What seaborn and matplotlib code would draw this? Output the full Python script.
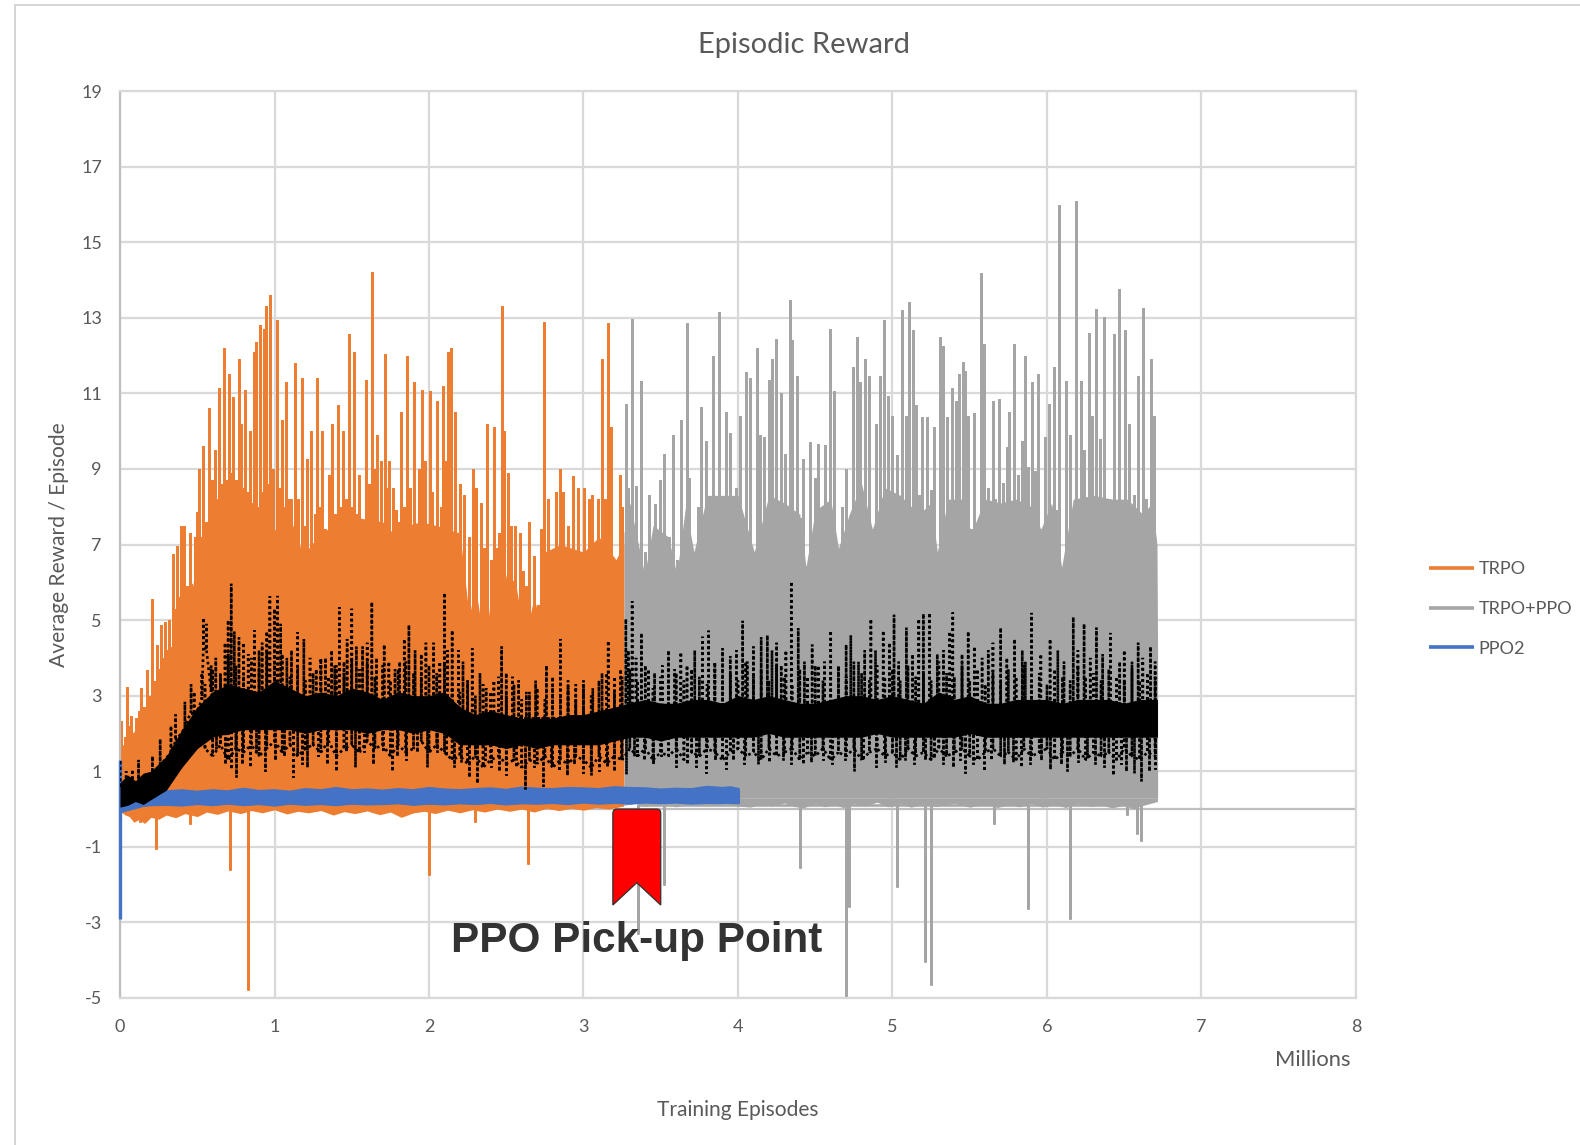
import matplotlib
matplotlib.use("Agg")
import matplotlib.pyplot as plt
from matplotlib.lines import Line2D
from matplotlib.path import Path
from matplotlib.patches import PathPatch
import seaborn as sns

W, H = 1580, 1145
ORANGE, GRAY, BLUE = "#ED7D31", "#A5A5A5", "#4472C4"
TEXT = "#595959"
GRID = "#D9D9D9"

TRPO_X = [0.0,0.009,0.03,0.045,0.06,0.072,0.09,0.105,0.122,0.138,0.155,0.172,0.19,0.21,0.224,0.239,0.252,0.265,0.278,0.29,0.304,0.317,0.33,0.346,0.36,0.372,0.385,0.395,0.407,0.417,0.434,0.45,0.462,0.473,0.487,0.5,0.51,0.525,0.54,0.557,0.573,0.585,0.595,0.607,0.618,0.63,0.64,0.657,0.673,0.69,0.707,0.72,0.729,0.75,0.767,0.777,0.785,0.798,0.811,0.825,0.84,0.853,0.867,0.88,0.893,0.907,0.923,0.935,0.947,0.958,0.97,0.99,1.014,1.03,1.046,1.06,1.074,1.092,1.11,1.13,1.152,1.175,1.195,1.213,1.235,1.26,1.278,1.293,1.31,1.324,1.353,1.369,1.39,1.409,1.425,1.442,1.462,1.482,1.497,1.514,1.53,1.547,1.57,1.592,1.613,1.634,1.648,1.661,1.687,1.714,1.728,1.743,1.765,1.788,1.805,1.821,1.84,1.857,1.877,1.904,1.933,1.955,1.977,2.004,2.022,2.055,2.075,2.093,2.11,2.126,2.144,2.167,2.2,2.229,2.256,2.282,2.305,2.334,2.356,2.378,2.4,2.418,2.44,2.455,2.47,2.485,2.512,2.53,2.554,2.59,2.61,2.628,2.65,2.679,2.706,2.725,2.742,2.773,2.802,2.824,2.851,2.869,2.902,2.935,2.964,3.002,3.036,3.058,3.091,3.105,3.12,3.14,3.16,3.18,3.207,3.236,3.25]
TRPO_Y = [1.5,2.32,1.9,3.24,2.2,2.46,2.0,2.41,2.6,3.19,2.7,3.69,3.0,5.55,3.4,4.35,3.7,4.87,4.0,4.94,4.2,5.0,4.3,6.76,5.3,6.95,5.6,7.5,6.0,7.5,5.9,7.3,5.95,5.9,7.2,7.85,9.0,7.2,9.6,7.6,10.6,8.2,8.7,7.9,9.5,8.2,11.15,8.6,12.2,8.7,11.5,8.9,10.9,8.7,11.9,8.9,10.2,8.5,11.1,8.4,10.0,8.1,12.1,12.35,8.0,12.8,8.4,12.7,13.3,8.6,13.6,9.0,12.95,8.5,10.3,8.0,11.3,8.2,8.2,11.8,8.2,11.4,7.5,9.25,10.0,7.8,11.4,8.0,10.0,7.4,8.85,10.2,7.8,10.7,8.0,10.0,8.2,12.57,8.0,12.1,7.8,8.85,7.6,11.35,8.6,14.2,9.0,9.9,9.2,12.03,8.5,9.2,8.5,7.9,7.6,10.5,8.0,12.0,8.5,11.3,9.0,11.1,9.2,11.05,8.4,10.8,8.0,11.2,9.2,12.1,12.2,10.5,8.6,8.3,7.2,9.0,8.5,8.1,6.9,10.2,6.6,10.1,6.9,7.3,13.3,10.0,8.9,7.5,7.5,7.3,6.3,5.9,7.6,6.7,5.4,7.4,12.9,8.2,6.7,8.4,9.0,8.4,7.5,8.8,8.5,8.5,8.2,8.3,8.2,7.0,11.9,8.2,12.85,10.1,6.6,8.85,8.0]
TRPO_BODY_X = [0.0,0.1,0.2,0.3,0.35,0.4,0.46,0.5,0.6,0.7,0.9,1.07,1.13,1.18,1.3,1.43,1.55,1.7,1.79,1.85,1.95,2.05,2.2,2.26,2.3,2.36,2.4,2.46,2.5,2.56,2.62,2.68,2.71,2.75,2.85,3.0,3.1,3.21,3.262]
TRPO_BODY_Y = [1.6,2.1,2.6,3.7,4.4,5.3,5.5,6.9,7.4,7.9,8.0,7.0,7.6,6.7,7.3,7.6,7.7,7.6,7.2,7.5,7.6,7.5,7.3,5.1,5.9,4.3,5.6,5.3,6.2,6.0,4.5,5.6,5.1,6.8,7.0,6.8,7.2,6.6,7.0]
TRPO_BOT_X = [0.0,0.03,0.06,0.09,0.12,0.16,0.2,0.25,0.3,0.36,0.42,0.5,0.56,0.63,0.7,0.78,0.85,0.92,1.0,1.08,1.15,1.22,1.3,1.38,1.45,1.52,1.6,1.68,1.75,1.82,1.9,1.97,2.04,2.12,2.2,2.28,2.36,2.44,2.52,2.6,2.68,2.76,2.84,2.92,3.0,3.08,3.16,3.26]
TRPO_BOT_Y = [-0.05,-0.15,-0.2,-0.35,-0.28,-0.38,-0.22,-0.27,-0.16,-0.23,-0.12,-0.2,-0.08,-0.14,-0.05,-0.12,-0.04,-0.1,-0.02,-0.13,-0.06,-0.1,-0.04,-0.16,-0.07,-0.12,-0.05,-0.15,-0.08,-0.22,-0.1,-0.06,-0.12,-0.03,-0.1,-0.02,-0.08,0.0,-0.06,0.0,-0.08,0.02,-0.04,0.02,-0.03,0.04,0.0,0.08]
TRPO_DIP_X = [0.13,0.234,0.45,0.71,0.83,2.0,2.3,2.64]
TRPO_DIP_Y = [-0.35,-1.06,-0.4,-1.6,-4.8,-1.75,-0.35,-1.45]

MIX_X = [3.274,3.29,3.315,3.34,3.37,3.396,3.426,3.465,3.496,3.523,3.554,3.58,3.604,3.63,3.67,3.685,3.715,3.74,3.76,3.79,3.835,3.875,3.9,3.92,3.95,3.985,4.01,4.05,4.08,4.105,4.125,4.14,4.17,4.2,4.22,4.247,4.28,4.305,4.335,4.35,4.38,4.4,4.42,4.44,4.467,4.496,4.52,4.54,4.563,4.594,4.624,4.65,4.675,4.7,4.725,4.745,4.767,4.79,4.82,4.845,4.87,4.894,4.92,4.947,4.97,5.0,5.03,5.06,5.09,5.11,5.13,5.15,5.17,5.19,5.225,5.25,5.27,5.29,5.31,5.33,5.35,5.385,5.41,5.43,5.455,5.47,5.49,5.51,5.53,5.57,5.59,5.62,5.65,5.665,5.69,5.715,5.74,5.755,5.785,5.81,5.835,5.86,5.875,5.9,5.92,5.94,5.96,5.99,6.015,6.045,6.06,6.075,6.095,6.12,6.15,6.185,6.22,6.24,6.27,6.29,6.315,6.34,6.37,6.4,6.435,6.45,6.465,6.49,6.505,6.53,6.56,6.59,6.62,6.64,6.67,6.695]
MIX_Y = [10.73,8.5,12.98,8.55,11.33,6.8,8.3,8.06,8.7,9.4,7.2,9.9,6.6,10.3,12.86,8.75,6.8,8.0,10.65,9.74,12.0,13.14,8.2,10.5,9.95,8.5,10.4,11.57,11.4,6.76,12.2,9.9,9.85,11.36,11.9,12.43,11.0,9.4,13.47,12.4,11.46,7.7,9.27,6.44,9.7,8.75,9.66,7.9,9.63,12.7,11.05,6.86,8.0,9.0,7.5,11.7,12.5,11.3,11.9,11.46,7.4,10.2,11.46,12.95,10.94,10.4,9.37,13.2,10.4,13.42,12.67,10.68,8.3,10.37,10.37,8.43,10.1,6.76,12.5,12.25,10.37,11.15,10.8,11.5,11.83,11.6,10.4,7.4,10.47,14.18,12.3,8.5,10.8,8.2,10.85,8.64,9.58,10.5,12.3,8.85,9.74,12.0,9.06,11.3,8.95,11.5,7.4,9.84,10.73,11.7,7.9,15.98,6.3,11.33,9.9,16.09,11.33,9.5,12.6,10.4,13.24,9.8,13.03,8.2,12.56,8.1,13.76,8.1,12.67,10.2,8.3,11.46,13.26,8.2,11.9,10.4]
MIX_BODY_X = [3.262,3.3,3.396,3.45,3.55,3.604,3.66,3.715,3.8,3.9,4.0,4.105,4.2,4.3,4.4,4.44,4.5,4.6,4.65,4.72,4.8,4.87,4.95,5.05,5.17,5.25,5.29,5.36,5.45,5.51,5.6,5.7,5.8,5.9,5.96,6.03,6.095,6.17,6.3,6.42,6.52,6.62,6.68,6.712,6.716]
MIX_BODY_Y = [7.3,8.1,6.2,7.5,7.2,6.2,8.0,6.8,8.3,8.3,8.3,6.8,8.3,8.1,7.8,6.4,7.9,8.2,6.9,7.8,8.6,7.4,8.5,8.3,7.8,8.1,6.8,8.2,8.2,7.3,8.2,8.1,8.2,8.0,7.4,8.1,6.4,8.2,8.3,8.2,8.2,7.8,8.1,7.0,4.0]
MIX_BOT_X = [3.26,3.33,3.4,3.5,3.6,3.7,3.8,3.9,4.0,4.08,4.15,4.22,4.3,4.36,4.42,4.5,4.56,4.62,4.68,4.75,4.82,4.9,4.97,5.05,5.12,5.2,5.28,5.4,5.5,5.6,5.68,5.75,5.82,5.9,5.97,6.05,6.12,6.2,6.28,6.35,6.42,6.5,6.56,6.6,6.66,6.715]
MIX_BOT_Y = [0.1,0.15,0.08,0.14,0.06,0.15,0.09,0.16,0.08,0.05,0.13,0.08,0.16,0.07,0.03,0.14,0.06,0.12,0.04,0.14,0.08,0.18,0.06,0.14,0.05,0.13,0.07,0.15,0.05,0.13,0.04,0.12,0.06,0.15,0.05,0.12,0.04,0.14,0.07,0.11,0.03,0.1,0.0,0.07,0.14,0.2]
MIX_DIP_X = [3.35,3.52,4.4,4.7,4.72,5.03,5.21,5.25,5.66,5.88,6.15,6.52,6.58,6.61]
MIX_DIP_Y = [-3.3,-2.0,-1.55,-5.0,-2.6,-2.05,-4.05,-4.65,-0.4,-2.65,-2.9,-0.15,-0.65,-0.85]

PPO2_X = [0.0,0.03,0.08,0.15,0.2,0.3,0.4,0.5,0.6,0.7,0.8,0.9,1.0,1.1,1.2,1.3,1.4,1.5,1.6,1.7,1.8,1.9,2.0,2.1,2.2,2.3,2.4,2.5,2.6,2.7,2.8,2.9,3.0,3.1,3.2,3.3,3.4,3.5,3.6,3.7,3.8,3.9,3.95,4.01]
PPO2_TOP = [0.3,0.2,0.25,0.42,0.46,0.47,0.5,0.46,0.5,0.47,0.54,0.48,0.5,0.46,0.53,0.5,0.56,0.5,0.52,0.49,0.53,0.5,0.56,0.52,0.5,0.53,0.55,0.51,0.57,0.54,0.53,0.56,0.55,0.53,0.58,0.56,0.55,0.52,0.54,0.53,0.59,0.56,0.58,0.53]
PPO2_BOT = [-0.1,-0.05,0.0,0.08,0.1,0.11,0.09,0.13,0.1,0.14,0.1,0.13,0.09,0.14,0.11,0.13,0.1,0.14,0.12,0.13,0.15,0.11,0.14,0.12,0.15,0.13,0.16,0.12,0.15,0.14,0.16,0.13,0.17,0.14,0.16,0.14,0.17,0.15,0.17,0.14,0.16,0.15,0.16,0.15]
PPO2_SPIKE_Y = [1.3,-2.9]

BAND_X = [0.0,0.05,0.1,0.15,0.2,0.3,0.4,0.5,0.6,0.7,0.8,0.9,1.0,1.1,1.2,1.3,1.4,1.5,1.6,1.7,1.8,1.9,2.0,2.1,2.2,2.3,2.4,2.5,2.6,2.7,2.8,2.9,3.0,3.1,3.2,3.3,3.4,3.5,3.6,3.7,3.8,3.9,4.0,4.1,4.2,4.3,4.4,4.5,4.6,4.7,4.8,4.9,5.0,5.1,5.2,5.3,5.4,5.5,5.6,5.7,5.8,5.9,6.0,6.1,6.2,6.3,6.4,6.5,6.6,6.715]
BAND_TOP = [0.7,0.9,0.75,0.95,1.0,1.4,2.1,2.7,3.1,3.3,3.2,3.1,3.4,3.2,3.0,3.1,3.0,3.2,3.1,2.9,3.1,3.0,3.0,3.1,2.7,2.5,2.6,2.5,2.4,2.4,2.4,2.5,2.5,2.6,2.7,2.8,2.9,2.8,2.8,2.9,2.9,2.8,3.0,2.9,3.0,2.9,2.8,2.8,2.9,3.0,3.0,2.9,3.0,2.9,2.8,3.1,2.9,3.0,2.8,2.8,2.9,2.9,2.9,2.8,2.9,2.9,2.9,2.8,2.9,2.9]
BAND_BOT = [0.05,0.1,0.2,0.12,0.25,0.5,1.1,1.6,1.9,2.0,2.1,2.1,2.1,2.1,2.0,2.1,2.1,2.1,2.0,2.1,2.1,2.0,2.1,2.0,1.7,1.7,1.7,1.6,1.7,1.6,1.7,1.7,1.7,1.7,1.8,1.9,1.9,1.8,1.9,1.9,1.9,1.9,1.9,1.9,2.0,1.9,1.9,1.9,1.9,1.9,1.9,2.0,1.9,1.9,1.9,1.9,1.9,2.0,1.9,1.9,1.9,1.9,1.9,1.9,1.9,1.9,1.9,1.9,1.9,1.9]

FUZZ_X = [0.55,0.6,0.65,0.7,0.75,0.8,0.85,0.9,0.95,1.0,1.05,1.1,1.15,1.2,1.25,1.3,1.35,1.4,1.45,1.5,1.55,1.6,1.65,1.7,1.75,1.8,1.85,1.9,1.95,2.0,2.05,2.1,2.15,2.2,2.25,2.3,2.35,2.4,2.45,2.5,2.55,2.6,2.65,2.7,2.75,2.8,2.85,2.9,2.95,3.0,3.05,3.1,3.15,3.2,3.25,3.3,3.35,3.4,3.45,3.5,3.55,3.6,3.65,3.7,3.75,3.8,3.85,3.9,3.95,4.0,4.05,4.1,4.15,4.2,4.25,4.3,4.35,4.4,4.45,4.5,4.55,4.6,4.65,4.7,4.75,4.8,4.85,4.9,4.95,5.0,5.05,5.1,5.15,5.2,5.25,5.3,5.35,5.4,5.45,5.5,5.55,5.6,5.65,5.7,5.75,5.8,5.85,5.9,5.95,6.0,6.05,6.1,6.15,6.2,6.25,6.3,6.35,6.4,6.45,6.5,6.55,6.6,6.65,6.7]
FUZZ_TOP = [3.3,3.7,3.5,4.1,3.8,3.6,4.0,3.7,4.2,3.9,4.1,3.5,3.8,3.4,3.6,3.9,3.5,3.8,3.6,4.0,3.7,3.9,3.5,3.8,3.4,3.7,3.9,3.6,3.5,3.8,3.6,3.9,3.3,3.1,3.4,3.0,3.3,3.1,3.5,3.0,3.3,2.9,3.1,3.2,2.9,3.3,3.0,3.2,2.9,3.3,3.0,3.4,3.6,3.1,3.5,3.7,3.4,3.8,3.2,3.5,3.3,3.6,3.4,3.7,3.5,3.3,3.8,3.5,3.6,3.4,3.9,3.5,3.7,3.4,3.8,3.5,3.3,3.7,3.5,3.8,3.4,3.6,3.7,3.5,3.9,3.6,3.4,3.8,3.5,3.7,3.4,3.8,3.5,3.6,3.4,3.9,3.6,3.5,3.8,3.4,3.7,3.3,3.6,3.4,3.7,3.5,3.8,3.4,3.6,3.3,3.7,3.5,3.4,3.8,3.5,3.6,3.4,3.7,3.5,3.4,3.7,3.4,3.6,3.5]
FUZZ_BOT = [1.6,1.4,1.7,1.3,1.6,1.5,1.7,1.4,1.6,1.8,1.5,1.7,1.4,1.6,1.7,1.5,1.8,1.4,1.6,1.7,1.5,1.8,1.6,1.7,1.4,1.7,1.5,1.6,1.8,1.5,1.7,1.5,1.3,1.4,1.2,1.4,1.1,1.3,1.4,1.2,1.3,1.1,1.3,1.2,1.4,1.1,1.3,1.2,1.4,1.3,1.1,1.4,1.2,1.4,1.3,1.6,1.4,1.6,1.3,1.5,1.4,1.6,1.3,1.5,1.4,1.6,1.5,1.3,1.5,1.6,1.4,1.5,1.3,1.6,1.4,1.5,1.6,1.3,1.5,1.4,1.6,1.3,1.5,1.4,1.6,1.3,1.5,1.6,1.4,1.5,1.3,1.6,1.4,1.5,1.3,1.6,1.4,1.5,1.6,1.4,1.3,1.5,1.6,1.4,1.5,1.3,1.6,1.4,1.5,1.6,1.3,1.5,1.4,1.6,1.3,1.5,1.4,1.5,1.3,1.6,1.4,1.3,1.5,1.4]

HI_X = [0.0,0.04,0.08,0.12,0.21,0.26,0.33,0.36,0.42,0.46,0.48,0.53,0.54,0.56,0.59,0.62,0.65,0.68,0.7,0.72,0.74,0.77,0.8,0.83,0.87,0.9,0.92,0.95,0.97,1.0,1.02,1.04,1.08,1.11,1.15,1.19,1.23,1.27,1.3,1.33,1.37,1.39,1.42,1.45,1.47,1.5,1.53,1.57,1.6,1.63,1.66,1.71,1.74,1.78,1.81,1.84,1.87,1.91,1.95,1.98,2.03,2.07,2.1,2.12,2.15,2.19,2.22,2.25,2.28,2.33,2.37,2.42,2.47,2.5,2.54,2.58,2.63,2.69,2.76,2.8,2.85,2.9,2.95,3.0,3.06,3.12,3.16,3.2,3.24,3.274,3.29,3.315,3.34,3.375,3.42,3.46,3.51,3.55,3.59,3.63,3.67,3.72,3.77,3.81,3.85,3.9,3.95,3.99,4.03,4.06,4.1,4.15,4.19,4.22,4.25,4.28,4.31,4.345,4.39,4.43,4.48,4.52,4.56,4.6,4.65,4.7,4.73,4.78,4.82,4.86,4.89,4.94,4.98,5.01,5.04,5.09,5.13,5.17,5.2,5.24,5.29,5.33,5.37,5.39,5.45,5.49,5.53,5.58,5.62,5.65,5.7,5.74,5.79,5.84,5.86,5.9,5.96,6.02,6.07,6.11,6.17,6.2,6.24,6.28,6.32,6.36,6.41,6.47,6.5,6.55,6.59,6.62,6.67,6.7]
HI_Y = [1.3,1.0,1.05,1.3,1.4,1.85,2.2,2.5,2.84,3.3,3.1,3.6,5.06,4.9,3.8,4.0,3.6,4.4,5.0,5.96,4.7,4.54,4.4,4.1,4.73,4.2,4.4,4.7,5.63,5.3,5.64,4.9,4.0,4.2,4.68,4.5,4.0,3.7,4.0,4.0,4.2,3.8,5.34,3.9,4.5,5.3,4.3,4.3,4.4,5.48,4.0,4.35,3.9,3.7,3.9,4.5,4.87,4.2,4.1,4.4,4.4,3.9,5.72,4.2,4.73,4.2,3.9,3.4,4.25,3.6,3.2,3.4,4.3,3.6,3.5,3.4,3.1,3.4,3.8,3.5,4.5,3.4,3.3,3.4,3.2,3.6,4.45,3.5,3.7,5.03,4.2,5.5,4.0,4.66,3.7,3.6,3.8,4.2,3.7,4.15,3.8,4.2,4.56,4.72,3.9,4.25,4.05,4.2,4.98,3.9,4.3,4.55,4.6,4.2,4.4,3.8,4.2,6.02,4.79,3.9,4.35,3.8,3.9,4.72,3.8,4.35,4.6,3.9,4.2,5.03,4.2,4.72,4.4,5.14,3.9,4.8,4.1,5.03,5.17,5.19,4.1,4.2,4.7,5.2,4.1,4.7,4.3,4.0,4.2,4.4,4.8,4.0,4.5,4.2,3.9,5.19,4.1,4.5,4.2,3.9,5.08,4.2,4.9,4.0,4.8,4.1,4.66,3.9,4.2,3.9,4.4,4.0,4.3,3.9]
LO_X = [0.62,0.68,0.72,0.75,0.79,0.84,0.88,0.94,1.0,1.06,1.12,1.18,1.21,1.28,1.34,1.4,1.46,1.52,1.58,1.64,1.7,1.76,1.79,1.85,1.92,1.99,2.05,2.11,2.16,2.21,2.26,2.31,2.36,2.4,2.45,2.5,2.56,2.62,2.68,2.74,2.79,2.84,2.89,2.94,3.0,3.05,3.1,3.15,3.2,3.24,3.276,3.33,3.39,3.45,3.5,3.6,3.67,3.73,3.79,3.85,3.92,3.97,4.04,4.13,4.2,4.29,4.34,4.42,4.47,4.55,4.61,4.69,4.75,4.81,4.89,4.95,5.02,5.08,5.14,5.21,5.27,5.33,5.39,5.44,5.47,5.52,5.59,5.64,5.72,5.78,5.83,5.89,5.96,6.02,6.09,6.13,6.2,6.26,6.31,6.37,6.43,6.48,6.51,6.56,6.61,6.66,6.7]
LO_Y = [1.6,1.2,1.05,0.85,1.2,1.1,1.5,1.0,1.3,1.4,0.85,1.2,1.1,1.4,1.2,1.0,1.5,1.1,1.5,1.2,1.5,1.0,1.4,1.3,1.5,1.1,1.5,1.4,1.1,1.25,0.85,0.7,1.3,1.1,1.0,0.9,1.1,0.52,1.1,0.62,1.2,1.0,0.9,1.2,0.95,0.9,1.0,1.1,1.0,1.3,0.92,1.4,1.3,1.2,1.4,1.1,1.2,1.1,0.95,1.3,1.06,1.3,1.2,1.2,1.25,1.3,1.2,1.2,1.25,1.3,1.2,1.3,1.0,1.3,1.1,1.25,1.1,1.3,1.2,1.3,1.35,1.2,1.1,1.3,0.95,1.2,1.0,1.3,1.2,1.25,1.1,1.2,1.3,1.05,1.2,1.0,1.25,1.35,1.2,1.1,0.9,1.2,1.0,0.95,0.74,1.0,1.05]

X_TICKS = [0,1,2,3,4,5,6,7,8]
Y_TICKS = [-5,-3,-1,1,3,5,7,9,11,13,15,17,19]


def spikes(xs, ys, bases):
    px, py = [], []
    for a, b, c in zip(xs, ys, bases):
        px += [a, a, a]
        py += [c, b, c]
    return px, py


sns.set_theme(style="whitegrid")
plt.rcParams["font.family"] = ["Lato", "DejaVu Sans"]
plt.rcParams["axes.unicode_minus"] = False

fig = plt.figure(figsize=(W / 100, H / 100), dpi=100, facecolor="white")
ax = fig.add_axes([120 / W, 1 - 998 / H, 1236 / W, 907 / H])
ax.set_facecolor("white")
ax.grid(True, color=GRID, lw=1.6)
ax.set_axisbelow(True)
ax.axhline(0, color="#BFBFBF", lw=1.6, zorder=1)

line_kw = dict(ax=ax, estimator=None, sort=False, errorbar=None, solid_joinstyle="bevel", solid_capstyle="butt")
dot_kw = dict(ax=ax, estimator=None, sort=False, errorbar=None, color="black", lw=1.9,
              linestyle=(0, (1, 1.15)), zorder=4, legend=False, dash_joinstyle="bevel")
LW = 2.1
# TRPO
ax.fill_between(TRPO_BODY_X, 0.3, TRPO_BODY_Y, color=ORANGE, lw=0, zorder=2)
ax.fill_between(TRPO_BOT_X, TRPO_BOT_Y, 0.3, color=ORANGE, lw=0, zorder=2)
sx, sy = spikes(TRPO_X, TRPO_Y, [0.5] * len(TRPO_X))
sns.lineplot(x=sx, y=sy, color=ORANGE, lw=LW, label="TRPO", zorder=2.1, **line_kw)
dx, dy = spikes(TRPO_DIP_X, TRPO_DIP_Y, [0.1] * len(TRPO_DIP_X))
sns.lineplot(x=dx, y=dy, color=ORANGE, lw=1.8, zorder=2.1, legend=False, **line_kw)
# TRPO+PPO
ax.fill_between(MIX_BODY_X, 0.3, MIX_BODY_Y, color=GRAY, lw=0, zorder=2.2)
ax.fill_between(MIX_BOT_X, MIX_BOT_Y, 0.3, color=GRAY, lw=0, zorder=2.2)
sx, sy = spikes(MIX_X, MIX_Y, [0.5] * len(MIX_X))
sns.lineplot(x=sx, y=sy, color=GRAY, lw=LW, label="TRPO+PPO", zorder=2.3, **line_kw)
dx, dy = spikes(MIX_DIP_X, MIX_DIP_Y, [0.1] * len(MIX_DIP_X))
sns.lineplot(x=dx, y=dy, color=GRAY, lw=1.8, zorder=2.3, legend=False, **line_kw)
# PPO2
ax.fill_between(PPO2_X, PPO2_BOT, PPO2_TOP, color=BLUE, lw=0, zorder=3)
sns.lineplot(x=PPO2_X, y=PPO2_TOP, color=BLUE, lw=1.4, label="PPO2", zorder=3, **line_kw)
sns.lineplot(x=PPO2_X, y=PPO2_BOT, color=BLUE, lw=1.4, zorder=3, legend=False, **line_kw)
spike = sns.lineplot(x=[0.0, 0.0], y=PPO2_SPIKE_Y, color=BLUE, lw=2.4, zorder=3, legend=False, **line_kw)
ax.lines[-1].set_clip_on(False)
# Black dotted series: dense core with dotted excursions
ax.fill_between(BAND_X, BAND_BOT, BAND_TOP, color="black", lw=0, zorder=4)
fx, fy = spikes(FUZZ_X, FUZZ_TOP, FUZZ_BOT)
sns.lineplot(x=fx, y=fy, **dot_kw)
hx, hy = spikes(HI_X, HI_Y, [2.4 if v > 0.6 else max(t - 0.7, 0.1) for v, t in zip(HI_X, HI_Y)])
sns.lineplot(x=hx, y=hy, **dot_kw)
lx, ly = spikes(LO_X, LO_Y, [2.4] * len(LO_X))
sns.lineplot(x=lx, y=ly, **dot_kw)

ax.set_xlim(0, 8)
ax.set_ylim(-5, 19)
ax.set_xticks(X_TICKS)
ax.set_yticks(Y_TICKS)
ax.tick_params(axis="x", length=0, labelsize=13, labelcolor=TEXT, pad=15)
ax.tick_params(axis="y", length=0, labelsize=13, labelcolor=TEXT, pad=13)
for s in ax.spines.values():
    s.set_color(GRID)
    s.set_linewidth(1.6)
ax.spines["left"].set_color("#BFBFBF")

ax.set_xlabel("")
ax.set_ylabel("")
fig.text(804 / W, 1 - 44.5 / H, "Episodic Reward", fontsize=21, color=TEXT, ha="center", va="center")
fig.text(738 / W, 1 - 1109.5 / H, "Training Episodes", fontsize=15.1, color=TEXT, ha="center", va="center")
fig.text(1313 / W, 1 - 1059.5 / H, "Millions", fontsize=15.8, color=TEXT, ha="center", va="center")
fig.text(59 / W, 1 - 545 / H, "Average Reward / Episode", fontsize=15.1, color=TEXT,
         ha="center", va="center", rotation=90)

leg = ax.legend(loc="center left", bbox_to_anchor=(1429 / W, 1 - 609 / H), bbox_transform=fig.transFigure,
                frameon=False, fontsize=13.1, labelcolor=TEXT, handlelength=2.45, handletextpad=0.27,
                labelspacing=1.3, borderpad=0, borderaxespad=0)
for h in leg.get_lines():
    h.set_linewidth(2.6)

# Ribbon marker
xl, xr, xm = 3.19, 3.50, 3.345
top, tip, notch, r = 0.0, -2.54, -1.95, 0.12
verts = [(xl, tip), (xl, top - r), (xl, top), (xl + 0.025, top), (xr - 0.025, top), (xr, top), (xr, top - r),
         (xr, tip), (xm, notch), (xl, tip)]
codes = [Path.MOVETO, Path.LINETO, Path.CURVE3, Path.CURVE3, Path.LINETO, Path.CURVE3, Path.CURVE3,
         Path.LINETO, Path.LINETO, Path.CLOSEPOLY]
ax.add_patch(PathPatch(Path(verts, codes), facecolor="#FF0000", edgecolor="#303030", lw=0.9, zorder=6))

ax.text(3.345, -3.5, "PPO Pick-up Point", family="Liberation Sans", fontweight="bold", fontsize=30.4,
        color="#333333", ha="center", va="center", zorder=7)

# Outer frame of the screenshot
fig.add_artist(Line2D([15 / W, 15 / W], [0, 1 - 5 / H], color="#D4D4D4", lw=1.4))
fig.add_artist(Line2D([15 / W, 1], [1 - 5 / H, 1 - 5 / H], color="#D4D4D4", lw=1.4))

fig.savefig("out.png", dpi=100, facecolor="white")
